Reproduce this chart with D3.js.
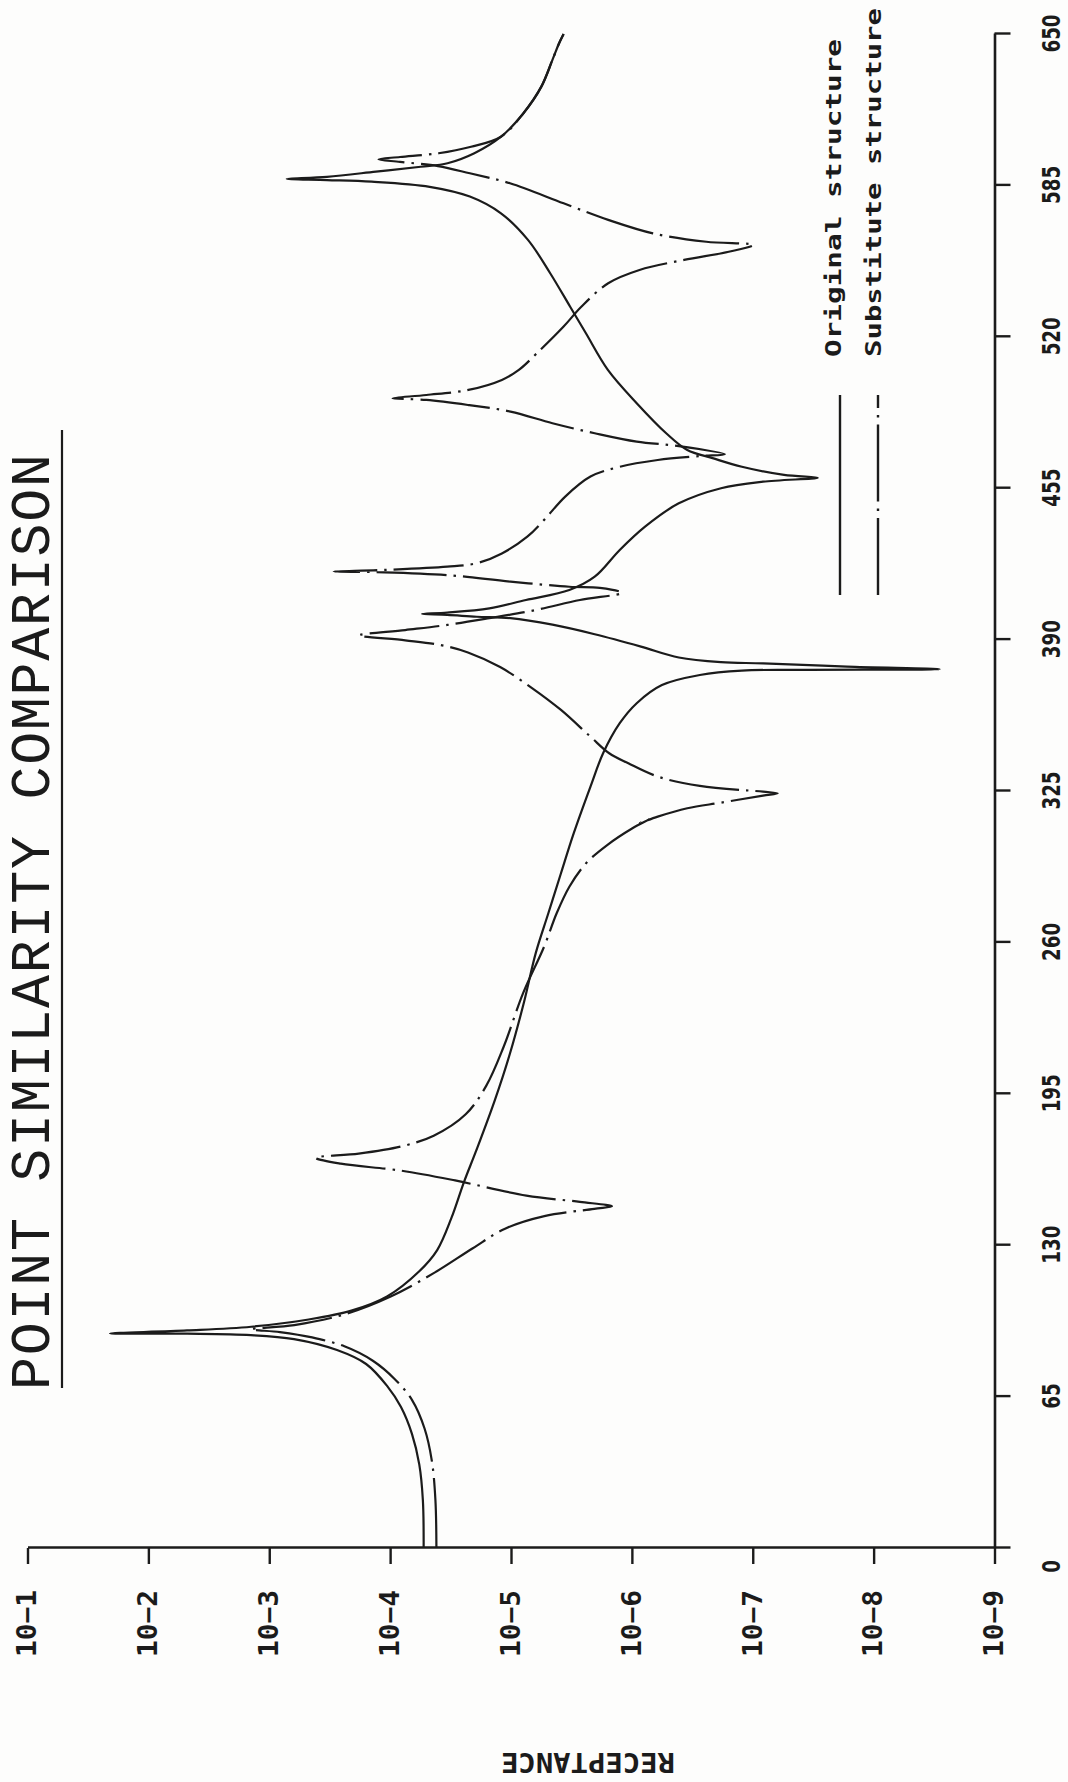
<!DOCTYPE html>
<html>
<head>
<meta charset="utf-8">
<script src="https://cdn.jsdelivr.net/npm/d3@7"></script>
<style>
  html, body { margin: 0; padding: 0; background: #fdfdfc; }
  svg { display: block; }
</style>
</head>
<body>
<svg id="chart" width="1068" height="1782"></svg>
<script>
// Frequency axis ticks (Hz) and receptance decades
const frequencyTicks = [0, 65, 130, 195, 260, 325, 390, 455, 520, 585, 650];
const receptanceTicks = [1e-1, 1e-2, 1e-3, 1e-4, 1e-5, 1e-6, 1e-7, 1e-8, 1e-9];
const seriesNames = ["Original structure", "Substitute structure"];

// Point receptance of the original structure
const originalFreq = [
  0, 20.6, 35.9, 48.9, 60.5, 69.6, 79.0, 85.0, 89.7, 91.4, 92.0, 92.1,
  93.4, 95.0, 98.1, 101.9, 108.0, 118.8, 127.9, 141.7, 157.1, 170.9, 192.3,
  212.3, 234.4, 255.3, 272.5, 289.7, 306.8, 326.9, 341.2, 354.1, 362.7,
  370.5, 374.8, 376.7, 377.0, 377.3, 378.4, 379.8, 380.3, 382.3, 387.0,
  392.3, 396.4, 399.2, 399.8, 400.6, 401.0, 401.6, 403.4, 407.0, 411.3,
  417.0, 428.5, 438.5, 448.5, 455.0, 457.8, 459.5, 460.7, 464.2, 467.9,
  471.4, 478.6, 491.5, 505.8, 521.5, 532.9, 547.3, 561.6, 573.0, 580.2,
  584.4, 586.6, 587.3, 587.8, 588.7, 590.9, 593.0, 594.5, 598.8, 605.9,
  616.0, 627.4, 638.9, 646.0, 650
];
const originalReceptance = [
  5.28e-5, 5.36e-5, 5.74e-5, 6.59e-5, 8.13e-5, 1.06e-4, 1.58e-4, 2.75e-4, 6.24e-4, 1.42e-3, 4.79e-3, 2.08e-2,
  4.79e-3, 1.41e-3, 4.72e-4, 2.09e-4, 1.06e-4, 5.74e-5, 4.08e-5, 3.11e-5, 2.45e-5, 1.93e-5, 1.36e-5,
  1.02e-5, 7.80e-6, 6.25e-6, 4.91e-6, 3.86e-6, 3.03e-6, 2.20e-6, 1.73e-6, 1.26e-6, 9.12e-7,
  5.64e-7, 2.74e-7, 1.23e-7, 3.70e-8, 2.84e-9, 1.66e-8, 8.22e-8, 1.83e-7, 4.09e-7, 8.41e-7,
  2.03e-6, 4.54e-6, 1.01e-5, 1.92e-5, 3.37e-5, 5.44e-5, 3.37e-5, 1.51e-5, 7.52e-6, 3.29e-6,
  2.03e-6, 1.26e-6, 7.78e-7, 4.09e-7, 1.83e-7, 8.22e-8, 2.90e-8, 5.51e-8, 1.23e-7, 2.15e-7,
  3.48e-7, 5.20e-7, 9.12e-7, 1.58e-6, 2.40e-6, 3.24e-6, 4.74e-6, 7.24e-6, 1.21e-5, 2.19e-5,
  4.71e-5, 1.42e-4, 3.33e-4, 7.16e-4, 3.33e-4, 1.31e-4, 5.58e-5, 3.35e-5, 2.01e-5, 1.21e-5,
  7.89e-6, 5.61e-6, 4.54e-6, 4.00e-6, 3.67e-6
];

// Point receptance of the substitute structure
const substituteFreq = [
  0, 20.6, 37.5, 51.3, 63.5, 72.7, 80.4, 86.6, 90.4, 92.7, 93.9,
  95.7, 100.3, 108.0, 118.0, 128.7, 137.1, 142.5, 145.6, 146.7,
  148.6, 151.3, 157.8, 162.0, 165.0, 167.5, 169.3, 172.4, 177.0, 186.2,
  198.5, 215.2, 238.2, 258.2, 272.5, 283.9, 294.0, 301.8, 309.0, 312.9,
  311.2, 314.0, 317.6, 320.0, 323.0, 324.0, 324.7, 327.2, 331.2, 336.9,
  341.2, 348.3, 359.8, 369.2, 378.2, 384.5, 387.7, 389.7, 391.8, 394.1,
  396.3, 399.2, 402.7, 407.0, 410.1, 412.2, 412.7, 414.9, 417.7, 418.9,
  419.2, 419.9, 421.3, 422.8, 427.0, 434.2, 441.4, 451.4, 460.0, 464.2,
  467.1, 468.8, 469.6, 473.1, 475.0, 478.6, 482.9, 487.9, 490.7, 492.9,
  493.6, 495.0, 497.2, 501.5, 505.8, 512.9, 524.4, 532.9, 543.0, 548.7,
  553.0, 556.5, 559.4, 560.8, 564.4, 570.2, 577.3, 585.9, 590.2, 593.3,
  595.1, 596.2, 597.2, 598.8, 601.6, 605.9, 616.0, 627.4, 638.9, 646.0, 650
];
const substituteReceptance = [
  4.14e-5, 4.22e-5, 4.52e-5, 5.19e-5, 6.58e-5, 9.23e-5, 1.39e-4, 2.39e-4, 4.42e-4, 8.15e-4, 1.41e-3,
  6.21e-4, 2.39e-4, 9.89e-5, 4.36e-5, 2.07e-5, 1.12e-5, 5.30e-6, 2.05e-6, 1.46e-6,
  2.69e-6, 7.46e-6, 2.90e-5, 8.07e-5, 2.56e-4, 4.13e-4, 1.82e-4, 8.07e-5, 4.36e-5, 2.37e-5,
  1.60e-5, 1.15e-5, 7.94e-6, 5.32e-6, 4.19e-6, 3.29e-6, 2.39e-6, 1.60e-6, 9.89e-7, 7.18e-7,
  8.60e-7, 6.11e-7, 3.48e-7, 1.83e-7, 8.22e-8, 6.22e-8, 8.22e-8, 2.74e-7, 6.11e-7, 1.07e-6,
  1.54e-6, 2.20e-6, 3.86e-6, 6.70e-6, 1.23e-5, 2.27e-5, 3.86e-5, 7.50e-5, 1.81e-4, 7.50e-5,
  3.37e-5, 1.51e-5, 6.25e-6, 2.69e-6, 1.21e-6, 1.84e-6, 3.29e-6, 1.01e-5, 3.37e-5, 1.12e-4,
  2.93e-4, 1.12e-4, 3.37e-5, 1.92e-5, 1.19e-5, 7.33e-6, 5.32e-6, 3.56e-6, 2.20e-6, 1.26e-6,
  6.11e-7, 2.74e-7, 1.70e-7, 4.09e-7, 9.12e-7, 2.03e-6, 4.54e-6, 1.01e-5, 2.25e-5, 5.02e-5,
  9.55e-5, 5.02e-5, 2.25e-5, 1.19e-5, 8.61e-6, 6.12e-6, 3.67e-6, 2.62e-6, 1.57e-6, 8.65e-7,
  3.70e-7, 1.58e-7, 9.89e-8, 2.42e-7, 6.70e-7, 1.57e-6, 3.67e-6, 1.02e-5, 2.19e-5, 4.02e-5,
  8.28e-5, 1.25e-4, 8.28e-5, 3.97e-5, 2.14e-5, 1.21e-5, 7.89e-6, 5.61e-6, 4.54e-6, 4.00e-6, 3.67e-6
];

const ink = "#1b1b1b";
const dashDot = "70,7,2.5,7";
const svg = d3.select("#chart");

// The plot is laid out sideways: frequency runs up the page, receptance across it.
const originX = 27.5, originY = 1548;
const freqLen = 1514, recLen = 967;
const g = svg.append("g")
  .attr("transform", `translate(${originX},${originY}) rotate(-90)`);

const x = d3.scaleLinear().domain([0, 650]).range([0, freqLen]);
const y = d3.scaleLog().domain([1e-1, 1e-9]).range([0, recLen]);

// Frequency axis
const fAxis = g.append("g")
  .attr("transform", `translate(0,${recLen})`)
  .call(d3.axisBottom(x).tickValues(frequencyTicks).tickSize(16).tickPadding(32).tickSizeOuter(0));
fAxis.select(".domain").attr("stroke", ink).attr("stroke-width", 2.6);
fAxis.selectAll(".tick line").attr("stroke", ink).attr("stroke-width", 2.4);
fAxis.selectAll(".tick text")
  .attr("fill", ink)
  .attr("font-family", "'DejaVu Sans', sans-serif")
  .attr("font-weight", "bold")
  .attr("font-size", 25)
  .attr("lengthAdjust", "spacingAndGlyphs")
  .attr("textLength", d => String(d).length * 12.7)
  .attr("x", d => d === 0 ? -19 : 0);

// Receptance axis
const rAxis = g.append("g")
  .call(d3.axisLeft(y).tickValues(receptanceTicks).tickSize(16).tickPadding(26).tickSizeOuter(0)
    .tickFormat(d => "10\u2212" + Math.round(-Math.log10(d))));
rAxis.select(".domain").attr("stroke", ink).attr("stroke-width", 2.6);
rAxis.selectAll(".tick line").attr("stroke", ink).attr("stroke-width", 2.4);
rAxis.selectAll(".tick text")
  .attr("fill", ink)
  .attr("font-family", "'DejaVu Sans Mono', monospace")
  .attr("font-weight", "bold")
  .attr("font-size", 26)
  .attr("lengthAdjust", "spacingAndGlyphs")
  .attr("textLength", 67);

// Curves
const line = d3.line()
  .x(d => x(d.f))
  .y(d => y(d.r))
  .curve(d3.curveCatmullRom.alpha(0.5));

const original = originalFreq.map((f, i) => ({ f, r: originalReceptance[i] }));
const substitute = substituteFreq.map((f, i) => ({ f, r: substituteReceptance[i] }));

g.append("path")
  .datum(original)
  .attr("d", line)
  .attr("fill", "none")
  .attr("stroke", ink)
  .attr("stroke-width", 2.2)
  .attr("stroke-linejoin", "round");

g.append("path")
  .datum(substitute)
  .attr("d", line)
  .attr("fill", "none")
  .attr("stroke", ink)
  .attr("stroke-width", 2.2)
  .attr("stroke-linejoin", "round")
  .attr("stroke-dasharray", dashDot);

// Title with underline
g.append("text")
  .attr("x", 158)
  .attr("y", 21.5)
  .attr("fill", ink)
  .attr("font-family", "'Liberation Mono', monospace")
  .attr("font-size", 55)
  .attr("textLength", 936)
  .attr("lengthAdjust", "spacing")
  .text("POINT SIMILARITY COMPARISON");
g.append("line")
  .attr("x1", 160).attr("x2", 1118)
  .attr("y1", 34.5).attr("y2", 34.5)
  .attr("stroke", ink).attr("stroke-width", 2.2);

// Legend
const legend = g.append("g");
const legendRows = [
  { name: seriesNames[0], v: 812.5, text: 813.5, len: 318, dash: null },
  { name: seriesNames[1], v: 850.5, text: 853.5, len: 349, dash: "77,7,2.5,7" }
];
legendRows.forEach(row => {
  legend.append("line")
    .attr("x1", 953).attr("x2", 1153)
    .attr("y1", row.v).attr("y2", row.v)
    .attr("stroke", ink).attr("stroke-width", 2.4)
    .attr("stroke-dasharray", row.dash);
  legend.append("text")
    .attr("x", 1191).attr("y", row.text)
    .attr("fill", ink)
    .attr("font-family", "'DejaVu Sans Mono', monospace")
    .attr("font-weight", "bold")
    .attr("font-size", 22)
    .attr("lengthAdjust", "spacingAndGlyphs")
    .attr("textLength", row.len)
    .text(row.name);
});

// Receptance axis title, upside down beneath the axis
svg.append("text")
  .attr("transform", "translate(588,1753) rotate(180)")
  .attr("text-anchor", "middle")
  .attr("fill", ink)
  .attr("font-family", "'DejaVu Sans Mono', monospace")
  .attr("font-weight", "bold")
  .attr("font-size", 26)
  .attr("lengthAdjust", "spacingAndGlyphs")
  .attr("textLength", 174)
  .text("RECEPTANCE");
</script>
</body>
</html>
